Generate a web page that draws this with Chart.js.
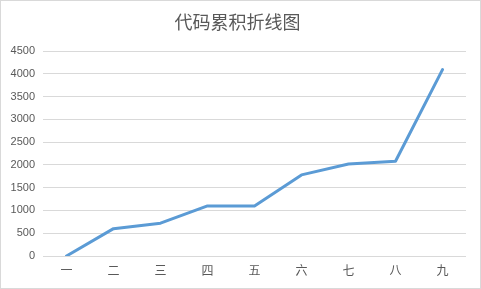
<!DOCTYPE html>
<html>
<head>
<meta charset="utf-8">
<script src="https://cdn.jsdelivr.net/npm/chart.js@4/dist/chart.umd.min.js"></script>
<style>
    html, body { margin: 0; padding: 0; background: #fff; }
    #box {
        width: 481px; height: 289px; box-sizing: border-box;
        border: 1px solid #d9d9d9; background: #fff;
    }
    #box canvas { display: block; }
</style>
</head>
<body>
<div id="box"><canvas id="myChart" width="479" height="287"></canvas></div>
<script>
// Categories (x axis) and cumulative code values
const categories = ['一', '二', '三', '四', '五', '六', '七', '八', '九'];
const codeTotals = [0, 600, 720, 1100, 1100, 1780, 2020, 2080, 4090];
// Y axis range / step
const yMax = 4500;
const yStep = 500;

const textColor = '#595959';
const gridColor = '#d9d9d9';

var ctx = document.getElementById('myChart').getContext('2d');
var myChart = new Chart(ctx, {
    type: 'line',
    data: {
        labels: categories,
        datasets: [{
            label: '代码累积',
            data: codeTotals,
            borderColor: '#5b9bd5',
            borderWidth: 3,
            pointRadius: 0,
            tension: 0,
            fill: false,
            borderJoinStyle: 'round',
            borderCapStyle: 'round'
        }]
    },
    options: {
        responsive: false,
        animation: false,
        layout: { padding: { left: 8, right: 14, top: 0, bottom: 4 } },
        plugins: {
            legend: { display: false },
            tooltip: { enabled: false },
            title: {
                display: true,
                text: '代码累积折线图',
                color: textColor,
                font: { family: '"Noto Sans CJK SC"', size: 18, weight: 'normal', lineHeight: 1.2 },
                padding: { top: 10, bottom: 18.4 }
            }
        },
        scales: {
            x: {
                offset: true,
                grid: { display: false, drawTicks: false },
                border: { display: false },
                ticks: {
                    color: textColor,
                    padding: 8,
                    font: { family: '"Noto Sans CJK SC"', size: 12, lineHeight: 1 }
                },
                afterFit: function(scale) { scale.height = 28; }
            },
            y: {
                min: 0,
                max: yMax,
                grid: { color: gridColor, lineWidth: 1, drawTicks: false },
                border: { display: false },
                ticks: {
                    stepSize: yStep,
                    color: textColor,
                    padding: 8,
                    font: { family: '"Liberation Sans"', size: 11 },
                    callback: function(value) { return String(value); }
                },
                afterFit: function(scale) { scale.width = 34; }
            }
        }
    }
});
</script>
</body>
</html>
